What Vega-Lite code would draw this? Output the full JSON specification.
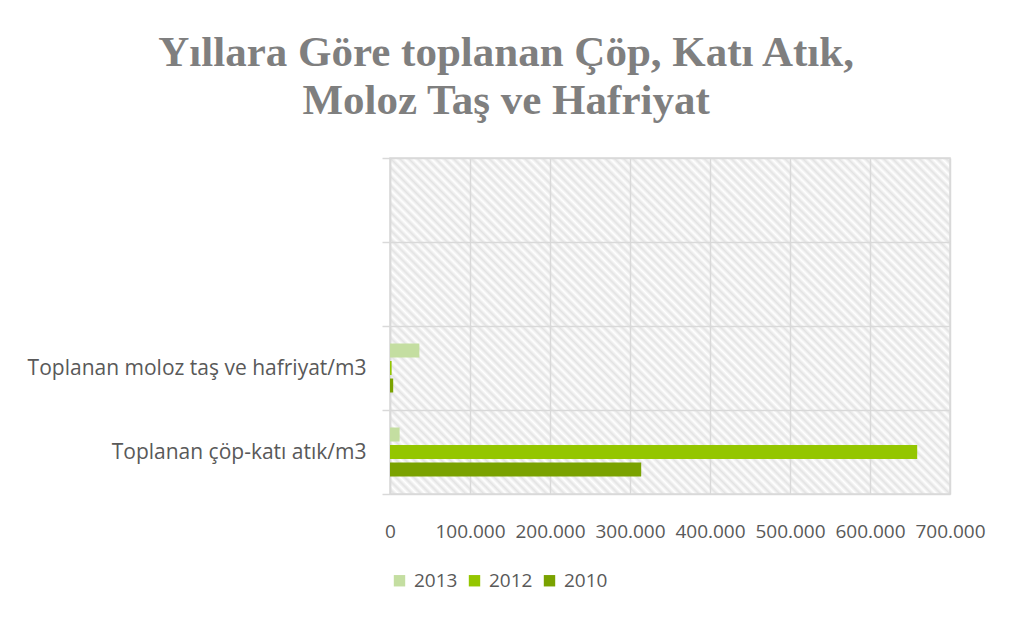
{
"$schema": "https://vega.github.io/schema/vega-lite/v6.json",
"width": 560,
"height": 336,
"padding": {"left": 27, "top": 32, "right": 20, "bottom": 5},
"background": "white",
"title": {"text": ["Yıllara Göre toplanan Çöp, Katı Atık,", "Moloz Taş ve Hafriyat"], "font": "Liberation Serif", "fontSize": 43, "fontWeight": "bold", "color": "#7f7f7f", "lineHeight": 48, "frame": "bounds", "anchor": "middle", "offset": 24},
"data": {"values": [
{"kategori": "Toplanan moloz taş ve hafriyat/m3", "yil": "2013", "deger": 36700},
{"kategori": "Toplanan moloz taş ve hafriyat/m3", "yil": "2012", "deger": 2000},
{"kategori": "Toplanan moloz taş ve hafriyat/m3", "yil": "2010", "deger": 4000},
{"kategori": "Toplanan çöp-katı atık/m3", "yil": "2013", "deger": 12000},
{"kategori": "Toplanan çöp-katı atık/m3", "yil": "2012", "deger": 659000},
{"kategori": "Toplanan çöp-katı atık/m3", "yil": "2010", "deger": 314000}
]},
"mark": {"type": "bar"},
"encoding": {
"y": {"field": "kategori", "type": "nominal", "scale": {"domain": ["e1", "e2", "Toplanan moloz taş ve hafriyat/m3", "Toplanan çöp-katı atık/m3"], "paddingInner": 0, "paddingOuter": 0},
 "axis": {"title": null, "labelExpr": "datum.value == 'e1' || datum.value == 'e2' ? '' : datum.value", "tickBand": "extent", "grid": true, "gridColor": "#d9d9d9", "gridWidth": 1.5, "domainColor": "#d9d9d9", "domainWidth": 1.5, "tickColor": "#d9d9d9", "tickWidth": 1.5, "tickSize": 8, "labelFont": "Open Sans", "labelFontSize": 21, "labelColor": "#595959", "labelPadding": 16, "labelLimit": 600}},
"yOffset": {"field": "yil", "type": "nominal", "scale": {"domain": ["2013", "2012", "2010"], "paddingInner": 0.2, "paddingOuter": 1.0}},
"x": {"field": "deger", "type": "quantitative", "scale": {"domain": [0, 700000], "nice": false},
 "axis": {"title": null, "values": [0, 100000, 200000, 300000, 400000, 500000, 600000, 700000], "labelExpr": "datum.value == 0 ? '0' : (datum.value / 1000) + '.000'", "grid": true, "gridColor": "#d9d9d9", "gridWidth": 1.5, "domain": false, "ticks": false, "labelFont": "Open Sans", "labelFontSize": 19, "labelColor": "#595959", "labelPadding": 28, "labelFlush": false, "labelOverlap": false}},
"color": {"field": "yil", "type": "nominal", "scale": {"domain": ["2013", "2012", "2010"], "range": ["#c4dea1", "#94c600", "#7aa200"]},
 "legend": {"title": null, "orient": "bottom", "direction": "horizontal", "symbolType": "square", "symbolSize": 130, "symbolStrokeWidth": 0, "labelFont": "Open Sans", "labelFontSize": 19, "labelColor": "#595959", "labelOffset": 5, "columnPadding": 7, "offset": 30, "padding": 0}}
},
"config": {"view": {"stroke": "#d9d9d9", "strokeWidth": 1.5, "fill": {"gradient": "linear", "x1": 0, "y1": 1, "x2": 1.1765, "y2": 0.294, "stops": [
{"offset":0,"color":"#fff"},{"offset":0.005,"color":"#e3e3e3"},{"offset":0.01,"color":"#fff"},{"offset":0.015,"color":"#e3e3e3"},{"offset":0.02,"color":"#fff"},{"offset":0.025,"color":"#e3e3e3"},{"offset":0.03,"color":"#fff"},{"offset":0.035,"color":"#e3e3e3"},{"offset":0.04,"color":"#fff"},{"offset":0.045,"color":"#e3e3e3"},
{"offset":0.05,"color":"#fff"},{"offset":0.055,"color":"#e3e3e3"},{"offset":0.06,"color":"#fff"},{"offset":0.065,"color":"#e3e3e3"},{"offset":0.07,"color":"#fff"},{"offset":0.075,"color":"#e3e3e3"},{"offset":0.08,"color":"#fff"},{"offset":0.085,"color":"#e3e3e3"},{"offset":0.09,"color":"#fff"},{"offset":0.095,"color":"#e3e3e3"},
{"offset":0.1,"color":"#fff"},{"offset":0.105,"color":"#e3e3e3"},{"offset":0.11,"color":"#fff"},{"offset":0.115,"color":"#e3e3e3"},{"offset":0.12,"color":"#fff"},{"offset":0.125,"color":"#e3e3e3"},{"offset":0.13,"color":"#fff"},{"offset":0.135,"color":"#e3e3e3"},{"offset":0.14,"color":"#fff"},{"offset":0.145,"color":"#e3e3e3"},
{"offset":0.15,"color":"#fff"},{"offset":0.155,"color":"#e3e3e3"},{"offset":0.16,"color":"#fff"},{"offset":0.165,"color":"#e3e3e3"},{"offset":0.17,"color":"#fff"},{"offset":0.175,"color":"#e3e3e3"},{"offset":0.18,"color":"#fff"},{"offset":0.185,"color":"#e3e3e3"},{"offset":0.19,"color":"#fff"},{"offset":0.195,"color":"#e3e3e3"},
{"offset":0.2,"color":"#fff"},{"offset":0.205,"color":"#e3e3e3"},{"offset":0.21,"color":"#fff"},{"offset":0.215,"color":"#e3e3e3"},{"offset":0.22,"color":"#fff"},{"offset":0.225,"color":"#e3e3e3"},{"offset":0.23,"color":"#fff"},{"offset":0.235,"color":"#e3e3e3"},{"offset":0.24,"color":"#fff"},{"offset":0.245,"color":"#e3e3e3"},
{"offset":0.25,"color":"#fff"},{"offset":0.255,"color":"#e3e3e3"},{"offset":0.26,"color":"#fff"},{"offset":0.265,"color":"#e3e3e3"},{"offset":0.27,"color":"#fff"},{"offset":0.275,"color":"#e3e3e3"},{"offset":0.28,"color":"#fff"},{"offset":0.285,"color":"#e3e3e3"},{"offset":0.29,"color":"#fff"},{"offset":0.295,"color":"#e3e3e3"},
{"offset":0.3,"color":"#fff"},{"offset":0.305,"color":"#e3e3e3"},{"offset":0.31,"color":"#fff"},{"offset":0.315,"color":"#e3e3e3"},{"offset":0.32,"color":"#fff"},{"offset":0.325,"color":"#e3e3e3"},{"offset":0.33,"color":"#fff"},{"offset":0.335,"color":"#e3e3e3"},{"offset":0.34,"color":"#fff"},{"offset":0.345,"color":"#e3e3e3"},
{"offset":0.35,"color":"#fff"},{"offset":0.355,"color":"#e3e3e3"},{"offset":0.36,"color":"#fff"},{"offset":0.365,"color":"#e3e3e3"},{"offset":0.37,"color":"#fff"},{"offset":0.375,"color":"#e3e3e3"},{"offset":0.38,"color":"#fff"},{"offset":0.385,"color":"#e3e3e3"},{"offset":0.39,"color":"#fff"},{"offset":0.395,"color":"#e3e3e3"},
{"offset":0.4,"color":"#fff"},{"offset":0.405,"color":"#e3e3e3"},{"offset":0.41,"color":"#fff"},{"offset":0.415,"color":"#e3e3e3"},{"offset":0.42,"color":"#fff"},{"offset":0.425,"color":"#e3e3e3"},{"offset":0.43,"color":"#fff"},{"offset":0.435,"color":"#e3e3e3"},{"offset":0.44,"color":"#fff"},{"offset":0.445,"color":"#e3e3e3"},
{"offset":0.45,"color":"#fff"},{"offset":0.455,"color":"#e3e3e3"},{"offset":0.46,"color":"#fff"},{"offset":0.465,"color":"#e3e3e3"},{"offset":0.47,"color":"#fff"},{"offset":0.475,"color":"#e3e3e3"},{"offset":0.48,"color":"#fff"},{"offset":0.485,"color":"#e3e3e3"},{"offset":0.49,"color":"#fff"},{"offset":0.495,"color":"#e3e3e3"},
{"offset":0.5,"color":"#fff"},{"offset":0.505,"color":"#e3e3e3"},{"offset":0.51,"color":"#fff"},{"offset":0.515,"color":"#e3e3e3"},{"offset":0.52,"color":"#fff"},{"offset":0.525,"color":"#e3e3e3"},{"offset":0.53,"color":"#fff"},{"offset":0.535,"color":"#e3e3e3"},{"offset":0.54,"color":"#fff"},{"offset":0.545,"color":"#e3e3e3"},
{"offset":0.55,"color":"#fff"},{"offset":0.555,"color":"#e3e3e3"},{"offset":0.56,"color":"#fff"},{"offset":0.565,"color":"#e3e3e3"},{"offset":0.57,"color":"#fff"},{"offset":0.575,"color":"#e3e3e3"},{"offset":0.58,"color":"#fff"},{"offset":0.585,"color":"#e3e3e3"},{"offset":0.59,"color":"#fff"},{"offset":0.595,"color":"#e3e3e3"},
{"offset":0.6,"color":"#fff"},{"offset":0.605,"color":"#e3e3e3"},{"offset":0.61,"color":"#fff"},{"offset":0.615,"color":"#e3e3e3"},{"offset":0.62,"color":"#fff"},{"offset":0.625,"color":"#e3e3e3"},{"offset":0.63,"color":"#fff"},{"offset":0.635,"color":"#e3e3e3"},{"offset":0.64,"color":"#fff"},{"offset":0.645,"color":"#e3e3e3"},
{"offset":0.65,"color":"#fff"},{"offset":0.655,"color":"#e3e3e3"},{"offset":0.66,"color":"#fff"},{"offset":0.665,"color":"#e3e3e3"},{"offset":0.67,"color":"#fff"},{"offset":0.675,"color":"#e3e3e3"},{"offset":0.68,"color":"#fff"},{"offset":0.685,"color":"#e3e3e3"},{"offset":0.69,"color":"#fff"},{"offset":0.695,"color":"#e3e3e3"},
{"offset":0.7,"color":"#fff"},{"offset":0.705,"color":"#e3e3e3"},{"offset":0.71,"color":"#fff"},{"offset":0.715,"color":"#e3e3e3"},{"offset":0.72,"color":"#fff"},{"offset":0.725,"color":"#e3e3e3"},{"offset":0.73,"color":"#fff"},{"offset":0.735,"color":"#e3e3e3"},{"offset":0.74,"color":"#fff"},{"offset":0.745,"color":"#e3e3e3"},
{"offset":0.75,"color":"#fff"},{"offset":0.755,"color":"#e3e3e3"},{"offset":0.76,"color":"#fff"},{"offset":0.765,"color":"#e3e3e3"},{"offset":0.77,"color":"#fff"},{"offset":0.775,"color":"#e3e3e3"},{"offset":0.78,"color":"#fff"},{"offset":0.785,"color":"#e3e3e3"},{"offset":0.79,"color":"#fff"},{"offset":0.795,"color":"#e3e3e3"},
{"offset":0.8,"color":"#fff"},{"offset":0.805,"color":"#e3e3e3"},{"offset":0.81,"color":"#fff"},{"offset":0.815,"color":"#e3e3e3"},{"offset":0.82,"color":"#fff"},{"offset":0.825,"color":"#e3e3e3"},{"offset":0.83,"color":"#fff"},{"offset":0.835,"color":"#e3e3e3"},{"offset":0.84,"color":"#fff"},{"offset":0.845,"color":"#e3e3e3"},
{"offset":0.85,"color":"#fff"},{"offset":0.855,"color":"#e3e3e3"},{"offset":0.86,"color":"#fff"},{"offset":0.865,"color":"#e3e3e3"},{"offset":0.87,"color":"#fff"},{"offset":0.875,"color":"#e3e3e3"},{"offset":0.88,"color":"#fff"},{"offset":0.885,"color":"#e3e3e3"},{"offset":0.89,"color":"#fff"},{"offset":0.895,"color":"#e3e3e3"},
{"offset":0.9,"color":"#fff"},{"offset":0.905,"color":"#e3e3e3"},{"offset":0.91,"color":"#fff"},{"offset":0.915,"color":"#e3e3e3"},{"offset":0.92,"color":"#fff"},{"offset":0.925,"color":"#e3e3e3"},{"offset":0.93,"color":"#fff"},{"offset":0.935,"color":"#e3e3e3"},{"offset":0.94,"color":"#fff"},{"offset":0.945,"color":"#e3e3e3"},
{"offset":0.95,"color":"#fff"},{"offset":0.955,"color":"#e3e3e3"},{"offset":0.96,"color":"#fff"},{"offset":0.965,"color":"#e3e3e3"},{"offset":0.97,"color":"#fff"},{"offset":0.975,"color":"#e3e3e3"},{"offset":0.98,"color":"#fff"},{"offset":0.985,"color":"#e3e3e3"},{"offset":0.99,"color":"#fff"},{"offset":0.995,"color":"#e3e3e3"},
{"offset":1,"color":"#fff"}
]}}}
}
